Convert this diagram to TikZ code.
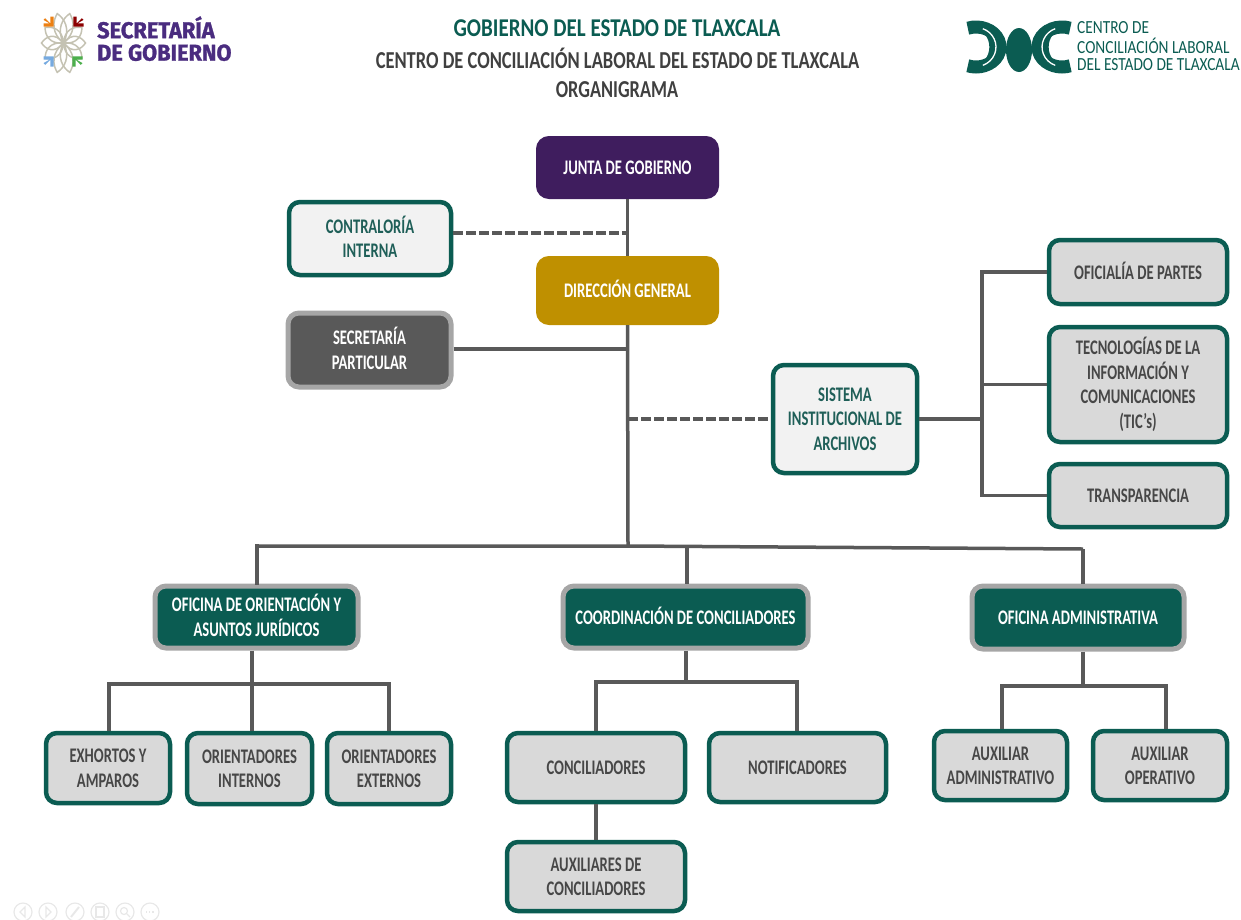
\documentclass[tikz,border=0pt]{standalone}
\usepackage{fontspec}
\usepackage{graphicx}
\setmainfont{Carlito}
\newfontfamily\logofont[BoldFeatures={FakeBold=1.2}]{Fira Sans}
\definecolor{teal}{HTML}{0B5C52}
\definecolor{tealtx}{HTML}{1F5F58}
\definecolor{purp}{HTML}{3F1D5E}
\definecolor{gold}{HTML}{BF9000}
\definecolor{lgray}{HTML}{D9D9D9}
\definecolor{pale}{HTML}{F2F2F2}
\definecolor{dgray}{HTML}{595959}
\definecolor{mgray}{HTML}{A6A6A6}
\definecolor{petal}{HTML}{C4C2B2}
\definecolor{secpurp}{HTML}{4A2C7F}
\newcommand{\TT}[1]{\vbox{\kern4pt\hbox{\scalebox{0.86}[1.22]{\renewcommand{\arraystretch}{0.98}\begin{tabular}{@{}c@{}}#1\end{tabular}}}}}
\newcommand{\boxat}[6]{\node[#1,minimum width=#4-#3-4pt,minimum height=#6-#5-4pt] (#2) at ({(#3+#4)/2},{(#5+#6)/2})}
\newcommand{\chev}[2]{\begin{scope}[shift={(#2)},scale=1.7]\fill[#1] (-4,-4) -- (-1,-1) -- (-1,-5) -- (1,-5) -- (1,1) -- (-5,1) -- (-5,-1) -- (-1.5,-1) -- (-5,-3) -- cycle;\end{scope}}
\tikzset{
 x=1pt,y=-1pt,
 base/.style={rectangle,rounded corners=11pt,inner sep=0pt,font=\fontsize{17}{20.5}\selectfont\bfseries},
 solidbox/.style={base,text=white,line width=4pt},
 whitebox/.style={base,fill=pale,draw=teal,line width=4.5pt,text=tealtx},
 graybox/.style={base,fill=lgray,draw=teal,line width=4.5pt,text=black!72},
 darkbox/.style={base,fill=dgray,draw=mgray,line width=5pt,text=white},
 tealbox/.style={base,fill=teal,draw=mgray,line width=5pt,text=white},
 link/.style={draw=black!65,line width=3.5pt},
 dashlink/.style={link,line width=4.5pt,dash pattern=on 9.5pt off 3.5pt},
 title/.style={inner sep=0pt,text=black!75,font=\fontsize{18.3}{22}\selectfont\bfseries},
 icon/.style={draw=black!9,line width=1.2pt},
}
\begin{document}
\begin{tikzpicture}
\useasboundingbox (0,0) rectangle (1241,919);
% titles
\node[title,text=teal,font=\fontsize{21}{22}\selectfont\bfseries] (t1) at (617,28) {\scalebox{1}[1.22]{GOBIERNO DEL ESTADO DE TLAXCALA}};
\node[title] (t2) at (617.5,58) {\scalebox{1.01}[1.33]{CENTRO DE CONCILIACIÓN LABORAL DEL ESTADO DE TLAXCALA}};
\node[title] (t3) at (617,90) {\scalebox{1}[1.33]{ORGANIGRAMA}};
% left logo
\begin{scope}[shift={(63.5,43)}]
 \foreach \a/\h/\w in {-12/30/10,12/30/10,168/30/10,192/30/10,90/22/11,-90/22/11,50/24/10,-50/24/10,130/24/10,-130/24/10}
  \draw[petal,line width=1.5pt,rotate=\a] (0,0) .. controls (\w,-0.4*\h) and (0.6*\w,-0.8*\h) .. (0,-\h) .. controls (-0.6*\w,-0.8*\h) and (-\w,-0.4*\h) .. (0,0);
\end{scope}
\chev{orange!70!brown}{52,25}
\begin{scope}[xscale=-1]\chev{red!55!black}{-75,25}\end{scope}
\begin{scope}[yscale=-1]\chev{cyan!60!blue!55}{52,-58}\end{scope}
\begin{scope}[xscale=-1,yscale=-1]\chev{green!55!black!70}{-74,-58}\end{scope}
\node[inner sep=0pt,text=secpurp,font=\logofont\fontsize{22.5}{23}\selectfont\bfseries,align=left,anchor=west] (seclogo) at (97,42) {\scalebox{0.97}[1.02]{\begin{tabular}{@{}l@{}}SECRETARÍA\\[-1pt]DE GOBIERNO\end{tabular}}};
% right logo
\fill[teal] (1019,50) ellipse [x radius=13,y radius=22];
\draw[teal,line width=13pt] (1070.2,28.2) arc [start angle=-70,end angle=-290,x radius=24,y radius=20];
\draw[teal,line width=13pt] (967.8,28.2) arc [start angle=-110,end angle=110,x radius=24,y radius=20];
\draw[teal,line width=13pt] (1048,30.4) arc [start angle=-135,end angle=-225,x radius=20,y radius=23.5];
\draw[teal,line width=13pt] (990,30.4) arc [start angle=-45,end angle=45,x radius=20,y radius=23.5];
\draw[white,line width=1.3pt] (1055.2,28.7) arc [start angle=-110,end angle=-250,x radius=20,y radius=19.5];
\draw[white,line width=1.3pt] (982.8,28.7) arc [start angle=-70,end angle=70,x radius=20,y radius=19.5];
\node[inner sep=0pt,text=teal,anchor=west,font=\fontsize{16.5}{15}\selectfont] (centrologo) at (1077,48.5) {\scalebox{0.93}[1.12]{\begin{tabular}{@{}l@{}}CENTRO DE\\CONCILIACIÓN LABORAL\\DEL ESTADO DE TLAXCALA\end{tabular}}};
% boxes
\boxat{solidbox,fill=purp,draw=purp}{junta}{536}{719}{136}{199} {\TT{JUNTA DE GOBIERNO}};
\boxat{solidbox,fill=gold,draw=gold}{dir}{536}{719}{256}{325} {\TT{DIRECCIÓN GENERAL}};
\boxat{whitebox}{contra}{287}{453}{200}{277} {\TT{CONTRALORÍA\\INTERNA}};
\boxat{darkbox}{secre}{286}{453}{311}{389} {\TT{SECRETARÍA\\PARTICULAR}};
\boxat{whitebox}{sia}{771}{919}{363}{475} {\TT{SISTEMA\\INSTITUCIONAL DE\\ARCHIVOS}};
\boxat{graybox}{ofi}{1047}{1229}{238}{306} {\TT{OFICIALÍA DE PARTES}};
\boxat{graybox}{tic}{1047}{1229}{325}{444} {\TT{TECNOLOGÍAS DE LA\\INFORMACIÓN Y\\COMUNICACIONES\\(TIC’s)}};
\boxat{graybox}{trans}{1047}{1229}{462}{529} {\TT{TRANSPARENCIA}};
\boxat{tealbox}{ori}{153}{360}{584}{650} {\TT{OFICINA DE ORIENTACIÓN Y\\ASUNTOS JURÍDICOS}};
\boxat{tealbox}{coord}{561}{810}{584}{650} {\TT{COORDINACIÓN DE CONCILIADORES}};
\boxat{tealbox}{adm}{970}{1186}{584}{651} {\TT{OFICINA ADMINISTRATIVA}};
\boxat{graybox}{exh}{44}{172}{731}{805} {\TT{EXHORTOS Y\\AMPAROS}};
\boxat{graybox}{oint}{185}{314}{731}{806} {\TT{ORIENTADORES\\INTERNOS}};
\boxat{graybox}{oext}{325}{453}{731}{806} {\TT{ORIENTADORES\\EXTERNOS}};
\boxat{graybox}{conc}{505}{687}{731}{804} {\TT{CONCILIADORES}};
\boxat{graybox}{noti}{707}{888}{731}{804} {\TT{NOTIFICADORES}};
\boxat{graybox}{auxc}{505}{687}{840}{913} {\TT{AUXILIARES DE\\CONCILIADORES}};
\boxat{graybox}{auxa}{932}{1069}{729}{802} {\TT{AUXILIAR\\ADMINISTRATIVO}};
\boxat{graybox}{auxo}{1091}{1229}{729}{802} {\TT{AUXILIAR\\OPERATIVO}};
% helper coordinates
\coordinate (busl) at (257,546);
\coordinate (busm) at (628,546);
\coordinate (busc) at (687,547);
\coordinate (busr) at (1083,549);
\coordinate (dashc) at (628,233);
\coordinate (secj) at (628,349);
\coordinate (siaj) at (628,419);
\coordinate (arch) at (982,419);
\coordinate (oribus) at (252,684);
\coordinate (orib1) at (109,684);
\coordinate (orib3) at (389,684);
\coordinate (coobus) at (686,682);
\coordinate (coob1) at (596,682);
\coordinate (coob2) at (797,682);
\coordinate (admbus) at (1083,686);
\coordinate (admb1) at (1002,686);
\coordinate (admb2) at (1166,686);
% connectors
\draw[link] (junta.south) -- (dir.north);
\draw[link] (dir.south) -- (busm);
\draw[dashlink] (contra.east |- dashc) -- (dashc);
\draw[link] (secre.east |- secj) -- (secj);
\draw[dashlink] (siaj) -- (sia.west |- siaj);
\draw[link,line width=4pt] (sia.east |- arch) -- (arch);
\draw[link,line cap=rect] (arch |- ofi) -- (arch |- trans);
\draw[link] (arch |- ofi) -- (ofi.west);
\draw[link] (arch |- tic) -- (tic.west);
\draw[link] (arch |- trans) -- (trans.west);
\draw[link,line join=miter] (busl) -- (busm) -- (busr);
\draw[link,line cap=rect] (busl) -- (busl |- ori.north);
\draw[link] (busc) -- (busc |- coord.north);
\draw[link] (busr) -- (busr |- adm.north);
\draw[link] (oribus |- ori.south) -- (oribus);
\draw[link] (orib1 |- exh.north) -- (orib1) -- (orib3) -- (orib3 |- oext.north);
\draw[link] (oribus) -- (oribus |- oint.north);
\draw[link] (coobus |- coord.south) -- (coobus);
\draw[link] (coob1 |- conc.north) -- (coob1) -- (coob2) -- (coob2 |- noti.north);
\draw[link] (coob1 |- conc.south) -- (coob1 |- auxc.north);
\draw[link] (admbus |- adm.south) -- (admbus);
\draw[link] (admb1 |- auxa.north) -- (admb1) -- (admb2) -- (admb2 |- auxo.north);
% faint viewer icons
\foreach \i/\x in {a/23,b/48,c/75,d/100,e/125,f/150}
 \node[icon,circle,minimum size=18pt,inner sep=0pt] (ic\i) at (\x,912) {};
\draw[icon] (25,907) -- (20,912) -- (25,917) -- cycle;
\draw[icon] (46,907) -- (51,912) -- (46,917) -- cycle;
\draw[icon,line width=2pt] (71,917) -- (79,907);
\draw[icon] (96,907) rectangle (104,917);
\draw[icon] (124,911) circle (3.5) (127,914) -- (130,917);
\draw[icon,dotted,line width=1.4pt] (146,912) -- (155,912);
\end{tikzpicture}
\end{document}
